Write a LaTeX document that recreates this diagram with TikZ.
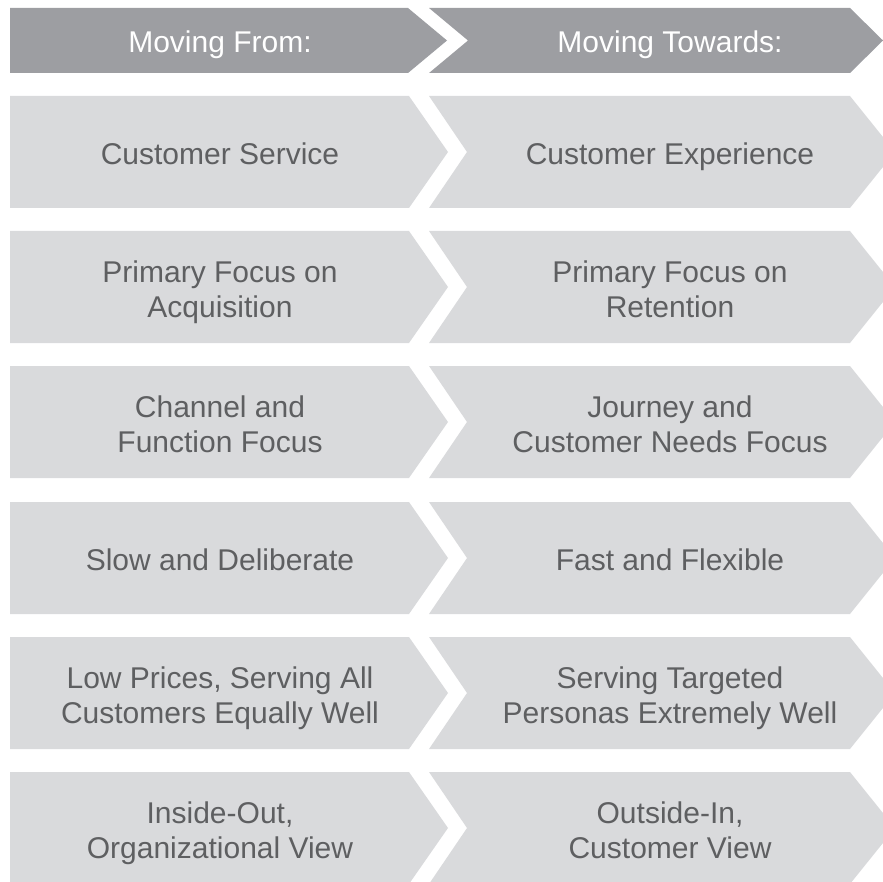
\documentclass[tikz,border=0pt]{standalone}
\usepackage{fontspec}
\setmainfont{Liberation Sans}
\definecolor{hdgray}{HTML}{9D9EA2}
\definecolor{rwgray}{HTML}{D9DADC}
\definecolor{txgray}{HTML}{5E5F61}

\begin{document}
\begin{tikzpicture}
  [
   x=0.5pt,y=-0.5pt,
   hd/.style={fill=hdgray},
   rw/.style={fill=rwgray},
   ht/.style={text=white,anchor=base,font=\fontsize{15}{17.5}\selectfont},
   rt/.style={text=txgray,align=center,text depth=0pt,font=\fontsize{15}{17.5}\selectfont}
  ]
   \useasboundingbox (0,0) rectangle (883,882);
   \clip (0,0) rectangle (883,882);

   % header
   \fill[hd] (10,8) -- (408,8) -- (447,40.5) -- (408,73) -- (10,73) -- cycle;
   \fill[hd] (429,8) -- (850,8) -- (883,40.5) -- (850,73) -- (429,73) -- (468,40.5) -- cycle;
   \node[ht] (hfrom) at (220,53) {Moving From:};
   \node[ht] (hto)   at (670,53) {Moving Towards:};

   % rows
   \fill[rw] (10,96) -- (409,96) -- (448,152) -- (409,208) -- (10,208) -- cycle;
   \fill[rw] (429,96) -- (850,96) -- (895,152) -- (850,208) -- (429,208) -- (467,152) -- cycle;
   \fill[rw] (10,231) -- (409,231) -- (448,287) -- (409,343) -- (10,343) -- cycle;
   \fill[rw] (429,231) -- (850,231) -- (895,287) -- (850,343) -- (429,343) -- (467,287) -- cycle;
   \fill[rw] (10,366) -- (409,366) -- (448,422) -- (409,478) -- (10,478) -- cycle;
   \fill[rw] (429,366) -- (850,366) -- (895,422) -- (850,478) -- (429,478) -- (467,422) -- cycle;
   \fill[rw] (10,502) -- (409,502) -- (448,558) -- (409,614) -- (10,614) -- cycle;
   \fill[rw] (429,502) -- (850,502) -- (895,558) -- (850,614) -- (429,614) -- (467,558) -- cycle;
   \fill[rw] (10,637) -- (409,637) -- (448,693) -- (409,749) -- (10,749) -- cycle;
   \fill[rw] (429,637) -- (850,637) -- (895,693) -- (850,749) -- (429,749) -- (467,693) -- cycle;
   \fill[rw] (10,772) -- (409,772) -- (448,828) -- (409,884) -- (10,884) -- cycle;
   \fill[rw] (429,772) -- (850,772) -- (895,828) -- (850,884) -- (429,884) -- (467,828) -- cycle;

   \node[rt] (from1) at (220,154) {Customer Service};
   \node[rt] (to1)   at (670,154) {Customer Experience};
   \node[rt] (from2) at (220,289) {Primary Focus on\\Acquisition};
   \node[rt] (to2)   at (670,289) {Primary Focus on\\Retention};
   \node[rt] (from3) at (220,424) {Channel and\\Function Focus};
   \node[rt] (to3)   at (670,424) {Journey and\\Customer Needs Focus};
   \node[rt] (from4) at (220,560) {Slow and Deliberate};
   \node[rt] (to4)   at (670,560) {Fast and Flexible};
   \node[rt] (from5) at (220,695) {Low Prices, Serving All\\Customers Equally Well};
   \node[rt] (to5)   at (670,695) {Serving Targeted\\Personas Extremely Well};
   \node[rt] (from6) at (220,830) {Inside-Out,\\Organizational View};
   \node[rt] (to6)   at (670,830) {Outside-In,\\Customer View};

\end{tikzpicture}
\end{document}
